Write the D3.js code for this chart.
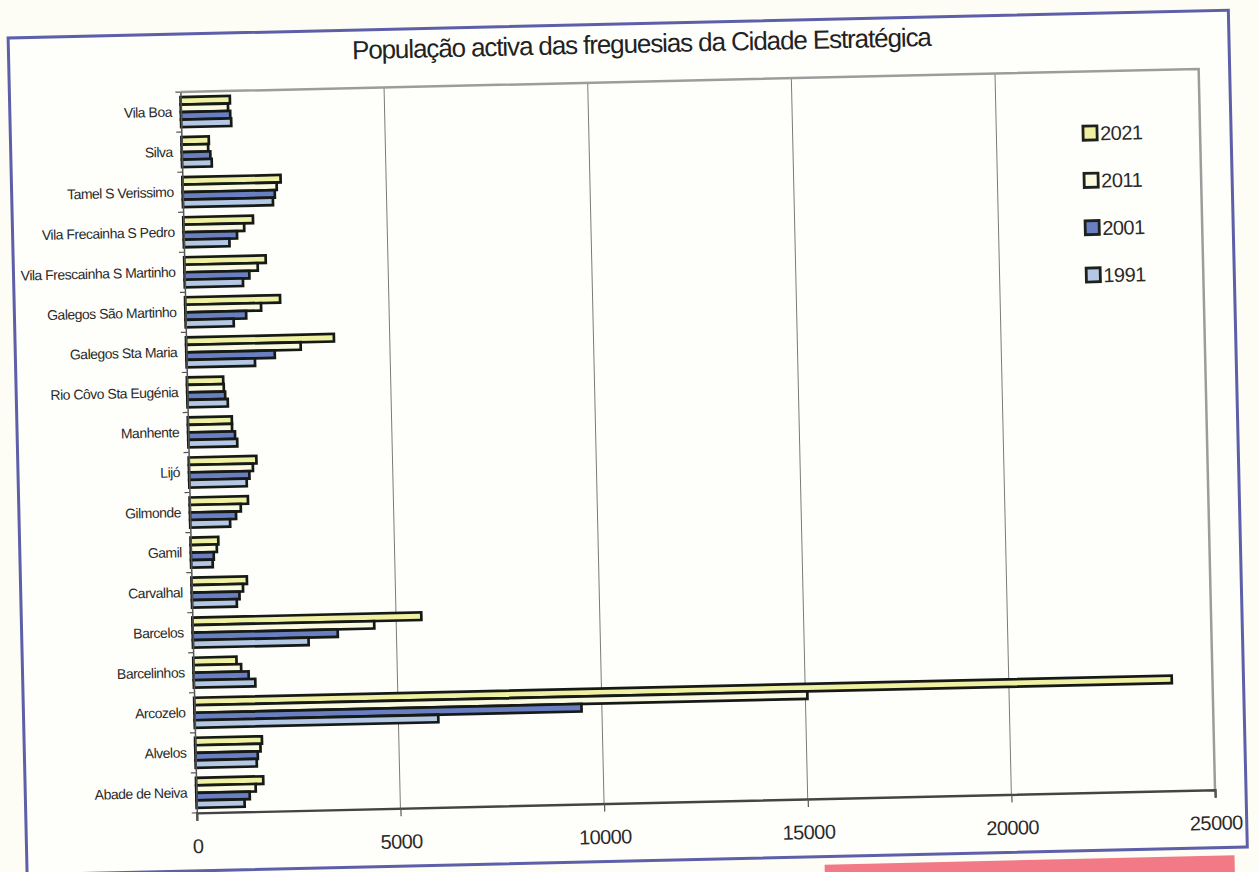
<!DOCTYPE html>
<html><head><meta charset="utf-8">
<script src="https://cdn.jsdelivr.net/npm/d3@7"></script>
<style>html,body{margin:0;padding:0;background:#fdfdf6;} svg{display:block}</style>
</head><body><svg id="c" width="1258" height="872"></svg>
<script>
const title = "População activa das freguesias da Cidade Estratégica";
const categories = ["Vila Boa","Silva","Tamel S Verissimo","Vila Frecainha S Pedro","Vila Frescainha S Martinho","Galegos São Martinho","Galegos Sta Maria","Rio Côvo Sta Eugénia","Manhente","Lijó","Gilmonde","Gamil","Carvalhal","Barcelos","Barcelinhos","Arcozelo","Alvelos","Abade de Neiva"];
const seriesNames = ["2021","2011","2001","1991"];
const v2021 = [1210, 670, 2410, 1710, 2000, 2330, 3630, 890, 1080, 1660, 1430, 680, 1360, 5620, 1060, 24000, 1640, 1650];
const v2011 = [1160, 650, 2310, 1490, 1800, 1860, 2810, 900, 1080, 1570, 1250, 640, 1260, 4460, 1170, 15050, 1600, 1460];
const v2001 = [1210, 700, 2260, 1310, 1590, 1490, 2170, 930, 1150, 1480, 1130, 560, 1170, 3560, 1350, 9500, 1530, 1310];
const v1991 = [1230, 730, 2210, 1120, 1430, 1180, 1680, 990, 1200, 1410, 980, 530, 1100, 2840, 1510, 5980, 1500, 1180];
const xTicks = [0, 5000, 10000, 15000, 20000, 25000];

const seriesValues = {"2021": v2021, "2011": v2011, "2001": v2001, "1991": v1991};
const colors = {"2021": "#f0f0a2", "2011": "#fafae0", "2001": "#6a7ec2", "1991": "#b4c8e6"};

const svg = d3.select("#c");
svg.append("rect").attr("width",1258).attr("height",872).attr("fill","#fdfdf6");
const g = svg.append("g").attr("transform","rotate(-1.3,628,444)");

// frame
g.append("rect").attr("x",17.5).attr("y",24).attr("width",1220.5).attr("height",837)
  .attr("fill","#fefefb").attr("stroke","#5d5fa8").attr("stroke-width",3);
// pink strip below frame
g.append("rect").attr("x",815).attr("y",869).attr("width",410).attr("height",30).attr("fill","#f27a86");

const L = 188.5, R = 1207, T = 82, B = 803;
const x = d3.scaleLinear().domain([0, 25000]).range([L, R]);
const y = d3.scaleBand().domain(categories).range([T, B]).padding(0);
const yi = d3.scaleBand().domain(seriesNames).range([5, y.bandwidth() - 5]).padding(0);

// gridlines
g.append("g").selectAll("line").data(xTicks.filter(d => d > 0 && d < 25000)).join("line")
  .attr("x1", d => x(d)).attr("x2", d => x(d)).attr("y1", T).attr("y2", B)
  .attr("stroke", "#7a7a7a").attr("stroke-width", 1);

// plot border top/right
g.append("path").attr("d", `M${L},${T}H${R}V${B}`).attr("fill","none")
  .attr("stroke","#9c9c9c").attr("stroke-width",2.5);

// bars
const rows = [];
categories.forEach((c, i) => seriesNames.forEach(s => rows.push({c, s, v: seriesValues[s][i]})));
g.append("g").selectAll("rect").data(rows).join("rect")
  .attr("x", x(0)).attr("y", d => y(d.c) + yi(d.s))
  .attr("width", d => x(d.v) - x(0)).attr("height", yi.bandwidth())
  .attr("fill", d => colors[d.s]).attr("stroke", "#161a16").attr("stroke-width", 2.7);

// left axis
const ya = g.append("g").attr("transform", `translate(${L},0)`)
  .call(d3.axisLeft(y).tickSize(0).tickPadding(9));
ya.select(".domain").attr("stroke","#555").attr("stroke-width",1.5);
ya.selectAll("text").attr("font-family","'Liberation Sans', Arial, sans-serif")
  .attr("font-size",14).attr("letter-spacing","-0.5").attr("fill","#2a2a2a");
// category boundary ticks
g.append("g").selectAll("line").data(categories.concat([null])).join("line")
  .attr("x1", L - 5).attr("x2", L)
  .attr("y1", d => d === null ? B : y(d)).attr("y2", d => d === null ? B : y(d))
  .attr("stroke","#555").attr("stroke-width",1.2);

// bottom axis
const xa = g.append("g").attr("transform", `translate(0,${B})`)
  .call(d3.axisBottom(x).tickValues(xTicks).tickSize(8).tickPadding(18).tickFormat(d3.format("d")));
xa.select(".domain").attr("stroke","#444").attr("stroke-width",2.4);
xa.selectAll(".tick line").attr("stroke","#555").attr("stroke-width",1.2);
xa.selectAll("text").attr("font-family","'Liberation Sans', Arial, sans-serif")
  .attr("font-size",20).attr("letter-spacing","-0.6").attr("fill","#2a2a2a");

// title
g.append("text").attr("x", 651).attr("y", 53).attr("text-anchor","middle")
  .attr("font-family","'Liberation Sans', Arial, sans-serif").attr("font-size",26)
  .attr("fill","#222").attr("textLength",580).attr("lengthAdjust","spacing").text(title);

// legend
const lg = g.append("g").attr("transform","translate(1090,136.6)");
const li = lg.selectAll("g").data(seriesNames).join("g")
  .attr("transform", (d, i) => `translate(0,${i * 47.3})`);
li.append("rect").attr("width",14).attr("height",14)
  .attr("fill", d => colors[d]).attr("stroke","#1c211c").attr("stroke-width",2.8);
li.append("text").attr("x",17).attr("y",14.5)
  .attr("font-family","'Liberation Sans', Arial, sans-serif").attr("font-size",20)
  .attr("letter-spacing","-0.5").attr("fill","#2a2a2a").text(d => d);
</script></body></html>
